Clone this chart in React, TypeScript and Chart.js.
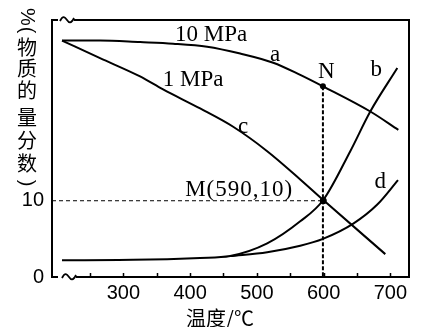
import React, { useEffect, useRef } from "react";
import { Chart, registerables } from "chart.js";

Chart.register(...registerables);

const xTicks = [300, 400, 500, 600, 700];
const xMinorTicks = [250, 300, 350, 400, 450, 500, 550, 600, 650, 700];
const yTicks = [0, 10];

// curve a (10 MPa)
const aX = [208, 265, 325, 374.5, 425.5, 475, 524.5, 565, 599, 670, 712];
const aY = [31.0, 31.0, 30.8, 30.6, 30.2, 29.3, 28.1, 26.5, 25.0, 21.7, 19.3];
// curve c (1 MPa)
const cX = [208, 265, 325, 359.5, 415, 464.5, 515.5, 565, 599.5, 692.5];
const cY = [31.0, 28.7, 26.3, 24.6, 22.1, 19.7, 16.5, 12.8, 10.1, 3.0];
// curve b
const bX = [208, 314.5, 415, 460, 515.5, 565, 599.5, 640, 670, 710.5];
const bY = [2.2, 2.25, 2.5, 2.75, 4.4, 7.3, 10.1, 16.5, 21.7, 27.4];
// curve d
const dX = [460, 515.5, 565, 599, 644.5, 680.5, 711.5];
const dY = [2.75, 3.25, 4.1, 5.0, 7.0, 9.5, 12.7];

const pointN = { x: 599, y: 25.0 };
const pointM = { x: 599.5, y: 10 };

const annotations = [
  { text: "10 MPa", x: 431.5, y: 31.7, spacing: 0 },
  { text: "a", x: 527.5, y: 29.1, spacing: 0 },
  { text: "1 MPa", x: 404.5, y: 25.9, spacing: 0 },
  { text: "c", x: 479.5, y: 19.7, spacing: 0 },
  { text: "N", x: 604, y: 26.9, spacing: 0 },
  { text: "b", x: 679, y: 27.1, spacing: 0 },
  { text: "d", x: 685, y: 12.4, spacing: 0 },
  { text: "M(590,10)", x: 473.5, y: 11.4, spacing: 1 },
];

const xTitle = "温度/℃";
const yTitleParts = ["%", "(", "物", "质", "的", "量", "分", "数", ")"];

const toPts = (xs: number[], ys: number[]) => xs.map((x, i) => ({ x, y: ys[i] }));

const decorPlugin = {
  id: "decor",
  beforeDatasetsDraw(chart: any) {
    const ctx = chart.ctx;
    const xs = chart.scales.x;
    const ys = chart.scales.y;
    const { left, right, top, bottom } = chart.chartArea;
    ctx.save();
    // dashed guide lines
    ctx.strokeStyle = "#000";
    ctx.lineWidth = 1;
    ctx.setLineDash([4, 3]);
    ctx.beginPath();
    ctx.moveTo(left, ys.getPixelForValue(pointM.y));
    ctx.lineTo(xs.getPixelForValue(pointM.x), ys.getPixelForValue(pointM.y));
    ctx.stroke();
    ctx.lineWidth = 2;
    ctx.setLineDash([4, 2]);
    ctx.beginPath();
    ctx.moveTo(xs.getPixelForValue(pointN.x), ys.getPixelForValue(pointN.y));
    ctx.lineTo(xs.getPixelForValue(pointN.x), bottom);
    ctx.stroke();
    ctx.setLineDash([]);

    // frame with axis breaks
    ctx.lineWidth = 2;
    ctx.beginPath();
    ctx.moveTo(left + 6, top);
    ctx.lineTo(left, top);
    ctx.lineTo(left, bottom);
    ctx.lineTo(left + 6, bottom);
    ctx.moveTo(left + 22, top);
    ctx.lineTo(right, top);
    ctx.lineTo(right, bottom);
    ctx.lineTo(left + 24, bottom);
    ctx.stroke();
    const tilde = (x0: number, y0: number) => {
      ctx.beginPath();
      ctx.moveTo(x0, y0 + 1);
      ctx.bezierCurveTo(x0 + 3, y0 - 5, x0 + 5, y0 - 3, x0 + 7, y0);
      ctx.bezierCurveTo(x0 + 9, y0 + 3, x0 + 11, y0 + 4, x0 + 14, y0 - 2);
      ctx.stroke();
    };
    ctx.lineWidth = 1.8;
    tilde(left + 8, top);
    tilde(left + 10, bottom);

    // x tick marks
    ctx.lineWidth = 1.5;
    ctx.beginPath();
    xMinorTicks.forEach((v) => {
      const px = Math.round(xs.getPixelForValue(v)) + 0.5;
      ctx.moveTo(px, bottom);
      ctx.lineTo(px, bottom - 4);
    });
    ctx.stroke();

    // axis titles
    ctx.fillStyle = "#000";
    ctx.font = '20px "Noto Sans CJK SC"';
    ctx.textAlign = "center";
    ctx.textBaseline = "middle";
    ctx.fillText(xTitle, 220, bottom + 41);
    const yCenters = [17, 30, 47, 68, 90, 117, 140, 163, 183];
    yTitleParts.forEach((ch, i) => {
      const cy = yCenters[i];
      if (ch === "%" || ch === "(" || ch === ")") {
        ctx.save();
        ctx.translate(27, cy);
        ctx.rotate(Math.PI / 2);
        ctx.font = '20px "Liberation Sans"';
        ctx.fillText(ch, 0, 0);
        ctx.restore();
      } else {
        ctx.fillText(ch, 27, cy);
      }
    });
    ctx.restore();
  },
  afterDatasetsDraw(chart: any) {
    const ctx = chart.ctx;
    const xs = chart.scales.x;
    const ys = chart.scales.y;
    ctx.save();
    ctx.fillStyle = "#000";
    [pointN, pointM].forEach((p, i) => {
      ctx.beginPath();
      ctx.arc(xs.getPixelForValue(p.x), ys.getPixelForValue(p.y), i === 0 ? 3 : 3.5, 0, Math.PI * 2);
      ctx.fill();
    });
    ctx.font = '23px "Liberation Serif"';
    ctx.textAlign = "center";
    ctx.textBaseline = "middle";
    annotations.forEach((a) => {
      (ctx as any).letterSpacing = a.spacing + "px";
      ctx.fillText(a.text, xs.getPixelForValue(a.x), ys.getPixelForValue(a.y));
    });
    ctx.restore();
  },
};

export default function App() {
  const ref = useRef<HTMLCanvasElement>(null);
  useEffect(() => {
    document.body.style.margin = "0";
    const line = (data: any[]) => ({
      data,
      borderColor: "#000",
      borderWidth: 2,
      pointRadius: 0,
      fill: false,
      cubicInterpolationMode: "monotone" as const,
    });
    const chart = new Chart(ref.current!, {
      type: "line",
      data: {
        datasets: [
          line(toPts(aX, aY)),
          line(toPts(cX, cY)),
          line(toPts(bX, bY)),
          line(toPts(dX, dY)),
        ],
      },
      options: {
        animation: false,
        responsive: false,
        devicePixelRatio: 1,
        layout: { padding: { top: 14, right: 13, left: 0, bottom: 0 } },
        plugins: { legend: { display: false }, tooltip: { enabled: false } },
        scales: {
          x: {
            type: "linear",
            min: 193,
            max: 728,
            grid: { display: false, drawTicks: false },
            border: { display: false },
            ticks: {
              color: "#000",
              font: { family: "Liberation Sans", size: 20 },
              padding: 4,
              autoSkip: false,
              maxRotation: 0,
            },
            afterBuildTicks: (s: any) => {
              s.ticks = xTicks.map((v) => ({ value: v }));
            },
            afterFit: (s: any) => {
              s.height = 50;
            },
          },
          y: {
            type: "linear",
            min: 0,
            max: 33.7,
            grid: { display: false, drawTicks: false },
            border: { display: false },
            ticks: {
              color: "#000",
              font: { family: "Liberation Sans", size: 20 },
              padding: 8,
            },
            afterBuildTicks: (s: any) => {
              s.ticks = yTicks.map((v) => ({ value: v }));
            },
            afterFit: (s: any) => {
              s.width = 52;
            },
          },
        },
      },
      plugins: [decorPlugin],
    });
    return () => chart.destroy();
  }, []);
  return <canvas ref={ref} width={422} height={327} />;
}
